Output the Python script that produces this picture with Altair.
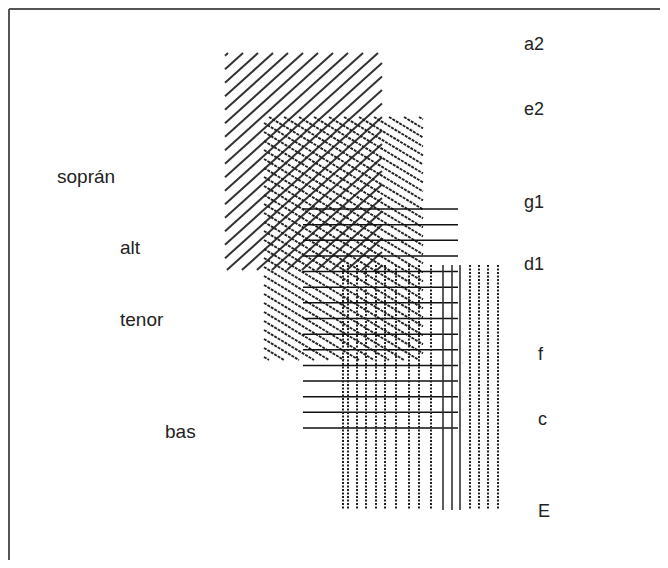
import altair as alt
import pandas as pd

# ---- data (abstract diagram units) ----
voices = ["soprán", "alt", "tenor", "bas"]
voice_left = [217, 256, 295, 333]
voice_right = [374, 415, 450, 492]
voice_top = [45, 109, 201, 257]
voice_bottom = [262, 352, 420, 502]

voice_label_x = [49, 112, 112, 157]
voice_label_y = [169, 240, 312, 424]

note_names = ["a2", "e2", "g1", "d1", "f", "c", "E"]
note_y = [37, 102, 195, 257, 347, 412, 504]
note_x = [516, 516, 516, 516, 530, 530, 530]

# bass vertical hatch offsets from the bass left edge; which are solid
bass_offsets = [2, 7, 16, 25, 35, 44, 55, 68, 78, 90, 102, 111, 119, 129, 138, 147, 157]
bass_solid = [False] * 10 + [True, True, True] + [False] * 4

W, H = 652, 552


def clip(ax, ay, dx, dy, x0, x1, y0, y1):
    t0, t1 = -1e9, 1e9
    for p, d, lo, hi in ((ax, dx, x0, x1), (ay, dy, y0, y1)):
        if d == 0:
            if p < lo or p > hi:
                return None
        else:
            a, b = (lo - p) / d, (hi - p) / d
            if a > b:
                a, b = b, a
            t0, t1 = max(t0, a), min(t1, b)
    if t1 - t0 < 1.5:
        return None
    return (ax + t0 * dx, ay + t0 * dy, ax + t1 * dx, ay + t1 * dy)


def diag_hatch(i, dx, slope, step, phase):
    x0, x1, y0, y1 = voice_left[i], voice_right[i], voice_top[i], voice_bottom[i]
    h = y1 - y0
    rows = []
    if dx < 0:   # "/" lines: anchors on the top edge, run down-left
        ax, end = x0 + phase, x1 + h / slope
    else:        # "\" lines: anchors on the top edge, run down-right
        ax, end = x0 - h / slope + phase, x1
    while ax <= end:
        seg = clip(ax, y0, dx, slope, x0, x1, y0, y1)
        if seg:
            rows.append(dict(x=seg[0], y=seg[1], x2=seg[2], y2=seg[3]))
        ax += step
    return pd.DataFrame(rows)


sop = diag_hatch(0, -1.0, 0.9, 15, 3)
alt_df = diag_hatch(1, 1.0, 0.6, 15, 5)

# tenor horizontal lines
n_ten = 15
ten = pd.DataFrame([
    dict(x=voice_left[2], x2=voice_right[2],
         y=voice_top[2] + k * (voice_bottom[2] - voice_top[2]) / (n_ten - 1))
    for k in range(n_ten)
])

# bass vertical lines
bas = pd.DataFrame([
    dict(x=voice_left[3] + o, y=voice_top[3], y2=voice_bottom[3], solid=s)
    for o, s in zip(bass_offsets, bass_solid)
])

xs = alt.Scale(domain=[0, W])
ys = alt.Scale(domain=[0, H], reverse=True)


def X():
    return alt.X("x:Q", scale=xs, axis=None)


def Y():
    return alt.Y("y:Q", scale=ys, axis=None)


sop_layer = alt.Chart(sop).mark_rule(color="#333333", strokeWidth=2).encode(
    x=X(), y=Y(), x2="x2:Q", y2="y2:Q")

alt_layer = alt.Chart(alt_df).mark_rule(color="#222222", strokeWidth=1.9, strokeDash=[3, 1]).encode(
    x=X(), y=Y(), x2="x2:Q", y2="y2:Q")

ten_layer = alt.Chart(ten).mark_rule(color="#111111", strokeWidth=1.5).encode(
    x=X(), y=Y(), x2="x2:Q")

bas_dot = alt.Chart(bas[~bas.solid]).mark_rule(color="#222222", strokeWidth=2, strokeDash=[2, 1.5]).encode(
    x=X(), y=Y(), y2="y2:Q")

bas_solid_layer = alt.Chart(bas[bas.solid]).mark_rule(color="#333333", strokeWidth=1.6).encode(
    x=X(), y=Y(), y2="y2:Q")

frame = pd.DataFrame([
    dict(x=1, x2=W, y=1, y2=1),
    dict(x=1, x2=1, y=1, y2=H),
])
frame_layer = alt.Chart(frame).mark_rule(color="#555555", strokeWidth=2).encode(
    x=X(), y=Y(), x2="x2:Q", y2="y2:Q")

vl = pd.DataFrame(dict(label=voices, x=voice_label_x, y=voice_label_y))
voice_text = alt.Chart(vl).mark_text(align="left", baseline="middle", font="Liberation Sans",
                                     fontSize=19, color="#222222").encode(
    x=X(), y=Y(), text="label:N")

nl = pd.DataFrame(dict(label=note_names, x=note_x, y=note_y))
note_text = alt.Chart(nl).mark_text(align="left", baseline="middle", font="Liberation Sans",
                                    fontSize=18, color="#222222").encode(
    x=X(), y=Y(), text="label:N")

chart = alt.layer(
    frame_layer, sop_layer, alt_layer, ten_layer, bas_dot, bas_solid_layer, voice_text, note_text
).properties(
    width=W, height=H, padding=0, autosize=alt.AutoSizeParams(type="none"), background="white"
).configure_view(stroke=None)

chart.save("out.html", embed_options={"renderer": "svg", "actions": False})
